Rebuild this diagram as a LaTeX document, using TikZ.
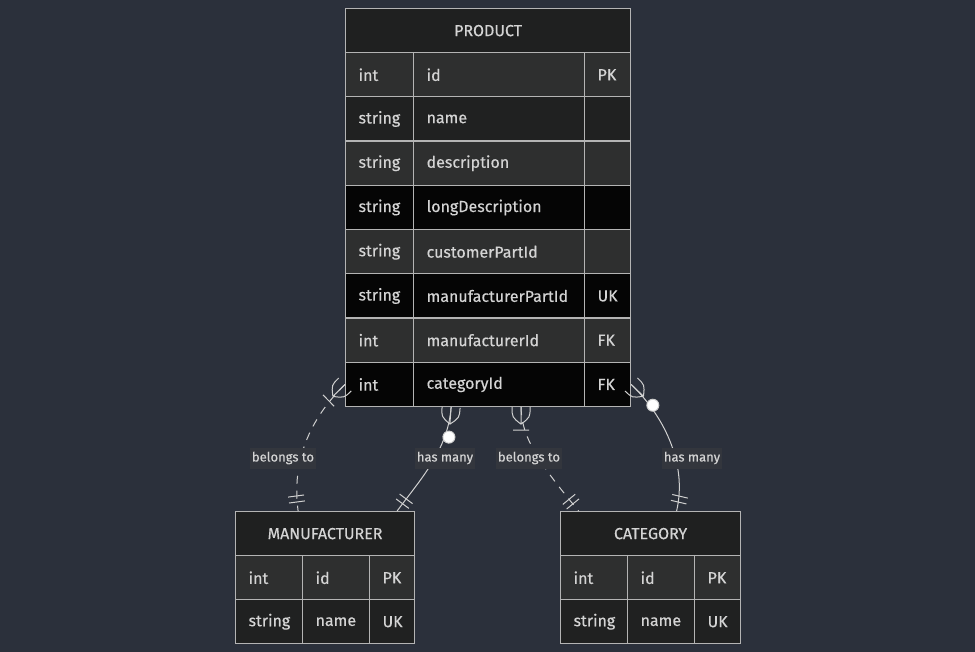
\documentclass[tikz,border=0pt]{standalone}
\usepackage{fontspec}
\setmainfont{Fira Sans}
\newfontfamily\erfont{Fira Sans}[FakeBold=0.4]
\usetikzlibrary{positioning,decorations.markings}

\definecolor{bg}{HTML}{2B303B}
\definecolor{hdbg}{HTML}{1F2020}
\definecolor{rowA}{HTML}{2E2F2F}
\definecolor{rowB}{HTML}{202121}
\definecolor{rowC}{HTML}{050505}
\definecolor{tblline}{HTML}{B4B4B4}
\definecolor{relline}{HTML}{D0D0D0}
\definecolor{txt}{HTML}{D4D4D4}
\definecolor{lblbg}{HTML}{33363D}

\newcommand\cellfont{\erfont\fontsize{16}{19}\selectfont}
\newcommand\lblfont{\erfont\fontsize{13}{15}\selectfont}

% relation ends
\newcommand\crowfoot{\draw[solid,relline,line width=1pt]
  (0,9pt) .. controls (10pt,9pt) .. (17pt,0) (0,-9pt) .. controls (10pt,-9pt) .. (17pt,0)
  (0,0) -- (17pt,0);}
\newcommand\crowbar{\crowfoot\draw[solid,relline,line width=1pt] (23pt,-8pt) -- (23pt,8pt);}
\newcommand\crowring{\crowfoot\draw[solid,relline,line width=1pt,fill=white] (30pt,0) circle (6pt);}
\newcommand\onebars{\draw[solid,relline,line width=1pt] (-9pt,-8pt) -- (-9pt,8pt) (-15pt,-8pt) -- (-15pt,8pt);}

\tikzset{
  cell/.style={draw=tblline, line width=1.2pt, text=txt, font=\cellfont,
    minimum height=44.25pt, inner xsep=13pt, inner ysep=0pt,
    text width=#1pt-26pt, align=left, anchor=north west},
  head/.style={draw=tblline, line width=1.2pt, text=txt, font=\cellfont,
    fill=hdbg, minimum width=#1pt, minimum height=44pt, anchor=north west},
  rel/.style={draw=relline, line width=1pt},
  rlabel/.style={fill=lblbg, text=txt, font=\lblfont, inner xsep=2pt,
    minimum height=21pt, minimum width=0pt},
  manyone/.style={postaction={decorate, decoration={markings,
    mark=at position 0 with {\crowbar}, mark=at position -0.1pt with {\onebars}}}},
  ringone/.style={postaction={decorate, decoration={markings,
    mark=at position 0 with {\crowring}, mark=at position -0.1pt with {\onebars}}}}
}

\begin{document}
\begin{tikzpicture}[x=1pt,y=-1pt]
  \useasboundingbox[fill=bg] (0,0) rectangle (975,652);

  % PRODUCT
  \node[head=285] (p-h) at (345,8) {PRODUCT};
  \foreach \t/\n/\k/\c [count=\i] in {int/id/PK/rowA, string/name//rowB,
      string/description//rowA, string/longDescription//rowC,
      string/customerPartId//rowA, string/manufacturerPartId/UK/rowC,
      int/manufacturerId/FK/rowA, int/categoryId/FK/rowC}{
    \pgfmathsetmacro\y{52+(\i-1)*44.25}
    \node[cell=68,fill=\c] (p-\i-t) at (345,\y) {\t};
    \node[cell=171,fill=\c] (p-\i-n) at (413,\y) {\n};
    \node[cell=46,fill=\c] (p-\i-k) at (584,\y) {\k};
  }

  % MANUFACTURER
  \node[head=179] (m-h) at (235,511) {MANUFACTURER};
  \node[cell=67,fill=rowA] (m-1-t) at (235,555) {int};
  \node[cell=67,fill=rowA] (m-1-n) at (302,555) {id};
  \node[cell=45,fill=rowA] (m-1-k) at (369,555) {PK};
  \node[cell=67,fill=rowB] (m-2-t) at (235,599) {string};
  \node[cell=67,fill=rowB] (m-2-n) at (302,599) {name};
  \node[cell=45,fill=rowB] (m-2-k) at (369,599) {UK};

  % CATEGORY
  \node[head=180] (c-h) at (560,511) {CATEGORY};
  \node[cell=67,fill=rowA] (c-1-t) at (560,555) {int};
  \node[cell=67,fill=rowA] (c-1-n) at (627,555) {id};
  \node[cell=46,fill=rowA] (c-1-k) at (694,555) {PK};
  \node[cell=67,fill=rowB] (c-2-t) at (560,599) {string};
  \node[cell=67,fill=rowB] (c-2-n) at (627,599) {name};
  \node[cell=46,fill=rowB] (c-2-k) at (694,599) {UK};

  % relations
  \draw[rel,dash pattern=on 8pt off 7pt,manyone] (p-8-t.west)
    .. controls (320,409) and (290,450) .. ([xshift=-27pt]m-h.north);
  \draw[rel,ringone] ([xshift=-48pt]p-8-n.south)
    .. controls (448,450) and (420,480) .. ([xshift=72pt]m-h.north);
  \draw[rel,dash pattern=on 8pt off 7pt,manyone] ([xshift=22pt]p-8-n.south)
    .. controls (521,440) and (545,470) .. ([xshift=-72pt]c-h.north);
  \draw[rel,ringone] (p-8-k.east)
    .. controls (662,414) and (688,462) .. ([xshift=26pt]c-h.north);

  \node[rlabel] (l-1) at (283,458) {belongs to};
  \node[rlabel] (l-2) at (445,458) {has many};
  \node[rlabel] (l-3) at (529,458) {belongs to};
  \node[rlabel] (l-4) at (692,458) {has many};
\end{tikzpicture}
\end{document}
